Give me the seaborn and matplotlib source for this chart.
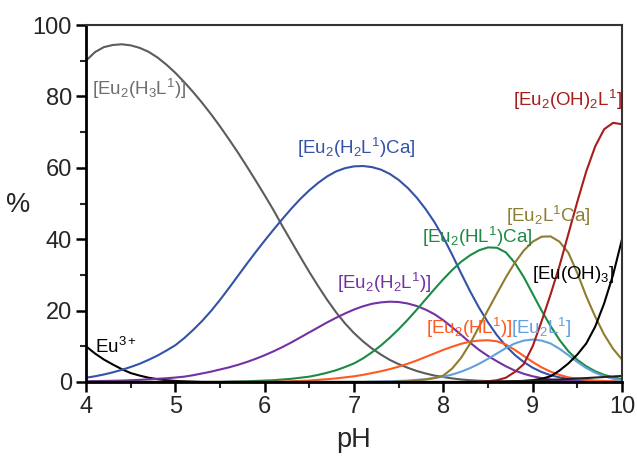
import numpy as np
import pandas as pd
import matplotlib
matplotlib.use("Agg")
import matplotlib.pyplot as plt
import seaborn as sns

pH = [round(4.0 + 0.1 * i, 1) for i in range(61)]

eu3 = [10.0, 8.0, 6.3, 4.9, 3.6, 2.5, 1.8, 1.2, 0.8, 0.5, 0.3, 0.2, 0.1] + [0.0] * 48

h3l = [90.0, 92.4, 93.8, 94.4, 94.6, 94.3, 93.6, 92.5, 90.9, 88.9,
       86.6, 84.0, 81.2, 78.2, 75.0, 71.6, 68.0, 64.3, 60.4, 56.4,
       52.3, 48.1, 43.6, 39.3, 35.0, 30.8, 26.8, 23.0, 19.5, 16.4,
       13.7, 11.4, 9.4, 7.7, 6.2, 5.0, 4.0, 3.1, 2.4, 1.8,
       1.4, 1.0, 0.7, 0.5, 0.35, 0.25, 0.15, 0.1, 0.05, 0.0,
       0.0, 0.0, 0.0, 0.0, 0.0, 0.0, 0.0, 0.0, 0.0, 0.0, 0.0]

h2lca = [1.2, 1.6, 2.1, 2.7, 3.4, 4.2, 5.1, 6.2, 7.4, 8.8,
         10.3, 12.3, 14.6, 17.1, 19.9, 23.0, 26.3, 29.7, 33.1, 36.4,
         39.6, 42.7, 45.7, 48.6, 51.3, 53.7, 55.8, 57.6, 59.0, 59.9,
         60.4, 60.5, 60.2, 59.5, 58.3, 56.6, 54.4, 51.7, 48.5, 44.8,
         40.5, 35.6, 30.4, 25.4, 20.8, 16.7, 13.1, 10.1, 7.6, 5.6,
         4.0, 2.8, 1.9, 1.3, 0.9, 0.6, 0.4, 0.25, 0.15, 0.1, 0.05]

h2l = [0.2, 0.25, 0.3, 0.35, 0.4, 0.5, 0.6, 0.75, 0.9, 1.05,
       1.25, 1.5, 1.9, 2.4, 2.9, 3.5, 4.1, 4.8, 5.6, 6.5,
       7.5, 8.6, 9.8, 11.1, 12.5, 13.9, 15.3, 16.7, 18.0, 19.2,
       20.3, 21.2, 21.9, 22.3, 22.5, 22.4, 22.0, 21.3, 20.3, 19.0,
       17.3, 15.3, 13.2, 11.0, 9.0, 7.3, 5.8, 4.4, 3.2, 2.3,
       1.6, 1.1, 0.7, 0.5, 0.3, 0.2, 0.1, 0.0, 0.0, 0.0, 0.0]

hlca = [0.0] * 16 + [0.1, 0.15, 0.2, 0.3,
        0.4, 0.5, 0.7, 0.9, 1.2, 1.5, 2.0, 2.6, 3.3, 4.2,
        5.2, 6.6, 8.3, 10.2, 12.4, 14.8, 17.4, 20.2, 23.1, 26.0,
        28.8, 31.4, 33.7, 35.5, 36.9, 37.7, 37.6, 36.3, 33.4, 29.4,
        24.7, 20.0, 15.7, 11.8, 8.6, 6.2, 4.4, 3.0, 2.0, 1.3, 0.8]

hl = [0.0] * 21 + [0.05, 0.1, 0.2, 0.3, 0.4, 0.6, 0.8, 1.0, 1.3,
      1.6, 2.0, 2.5, 3.0, 3.6, 4.3, 5.1, 6.0, 7.0, 8.0,
      9.0, 9.9, 10.7, 11.3, 11.6, 11.7, 11.4, 10.5, 9.0, 7.3,
      5.6, 4.1, 2.9, 2.0, 1.3, 0.9, 0.6, 0.4, 0.3, 0.2, 0.1]

l1 = [0.0] * 32 + [0.1, 0.15, 0.2, 0.3, 0.4, 0.6, 0.8, 1.1,
      1.5, 2.1, 2.9, 3.9, 5.1, 6.5, 8.0, 9.5, 10.8, 11.6,
      11.9, 11.6, 10.8, 9.3, 7.5, 5.6, 3.9, 2.6, 1.6, 0.9, 0.5]

lca = [0.0] * 35 + [0.1, 0.2, 0.4, 0.7, 1.1,
       1.8, 3.8, 6.8, 10.8, 15.5, 20.2, 24.8, 29.3, 33.4, 36.8,
       39.3, 40.7, 40.8, 39.3, 36.2, 30.5, 24.0, 18.3, 13.3, 9.3, 6.3]

oh2l = [0.0] * 45 + [0.2, 0.5, 1.2, 2.8, 5.0,
        10.0, 17.0, 24.5, 32.5, 41.5, 50.5, 59.0, 66.0, 70.8, 72.6, 72.2]

euoh3 = [0.0] * 48 + [0.2, 0.3,
         0.5, 0.9, 1.6, 3.2, 5.2, 7.7, 10.8, 15.5, 22.0, 30.0, 40.0]

minor = [0.0] * 45 + [0.1, 0.15, 0.2, 0.25, 0.3,
         0.4, 0.5, 0.6, 0.7, 0.85, 1.0, 1.1, 1.25, 1.4, 1.55, 1.7]

species = ["Eu3+", "H3L", "H2LCa", "H2L", "HLCa", "HL", "L", "LCa", "OH2L", "EuOH3", "minor"]
values = [eu3, h3l, h2lca, h2l, hlca, hl, l1, lca, oh2l, euoh3, minor]
colors = ["#000000", "#5c5c5c", "#3352a8", "#7431a3", "#1d8a44", "#ff5a1f",
          "#64a0dc", "#8e7c30", "#a81c1c", "#000000", "#222222"]

labels = [r"Eu$^{3+}$", r"[Eu$_2$(H$_3$L$^1$)]", r"[Eu$_2$(H$_2$L$^1$)Ca]",
          r"[Eu$_2$(H$_2$L$^1$)]", r"[Eu$_2$(HL$^1$)Ca]", r"[Eu$_2$(HL$^1$)]",
          r"[Eu$_2$L$^1$]", r"[Eu$_2$L$^1$Ca]", r"[Eu$_2$(OH)$_2$L$^1$]",
          r"[Eu(OH)$_3$]"]
label_colors = ["#000000", "#6e6e6e", "#3352a8", "#7431a3", "#1d8a44", "#ff5a1f",
                "#64a0dc", "#8e7c30", "#a81c1c", "#000000"]
label_x = [4.33, 4.6, 7.03, 7.34, 8.38, 8.29, 9.09, 9.17, 9.39, 9.46]
label_y = [9.8, 82.2, 65.5, 27.7, 40.6, 15.1, 15.1, 46.4, 78.9, 30.0]

rows = []
for sp, vals in zip(species, values):
    for x, v in zip(pH, vals):
        rows.append({"pH": x, "pct": v, "species": sp})
df = pd.DataFrame(rows)

sns.set_style("ticks")
plt.rcParams["font.family"] = ["Liberation Sans", "DejaVu Sans"]
plt.rcParams["mathtext.fontset"] = "custom"
plt.rcParams["mathtext.rm"] = "Liberation Sans"
plt.rcParams["mathtext.it"] = "Liberation Sans:italic"
plt.rcParams["mathtext.bf"] = "Liberation Sans:bold"

fig = plt.figure(figsize=(6.37, 4.62), dpi=100)
ax = fig.add_axes([86 / 637, 1 - 382 / 462, 536 / 637, 357 / 462])

sns.lineplot(data=df, x="pH", y="pct", hue="species", hue_order=species,
             palette=dict(zip(species, colors)), linewidth=1.5, legend=False,
             ax=ax, sort=True, estimator=None)
for ln in ax.get_lines():
    ln.set_solid_joinstyle("round")

for t, c, x, y in zip(labels, label_colors, label_x, label_y):
    ax.text(x, y, t, color=c, fontsize=13.5, ha="center", va="center")

ax.set_xlim(4, 10)
ax.set_ylim(0, 100)
ax.set_xticks([4, 5, 6, 7, 8, 9, 10])
ax.set_xticks(np.arange(4.5, 10, 1.0), minor=True)
ax.set_yticks([0, 20, 40, 60, 80, 100])
ax.set_yticks([10, 30, 50, 70, 90], minor=True)
ax.tick_params(axis="both", which="major", length=7, width=1.8, labelsize=17,
               direction="out", color="black", pad=3)
ax.tick_params(axis="both", which="minor", length=4.5, width=1.5, direction="out")

ax.set_xlabel("pH", fontsize=19.5)
ax.set_ylabel("%", fontsize=19.5, rotation=0)
ax.xaxis.set_label_coords(0.5, -0.163)
ax.xaxis.label.set_va("center")
ax.yaxis.set_label_coords(-0.127, 0.496)
ax.yaxis.label.set_va("center")
ax.yaxis.label.set_ha("center")

for s in ["left", "bottom"]:
    ax.spines[s].set_linewidth(2.0)
    ax.spines[s].set_color("black")
for s in ["top", "right"]:
    ax.spines[s].set_linewidth(1.5)
    ax.spines[s].set_color("#333333")
    ax.spines[s].set_visible(True)

fig.savefig("out.png", dpi=100)
